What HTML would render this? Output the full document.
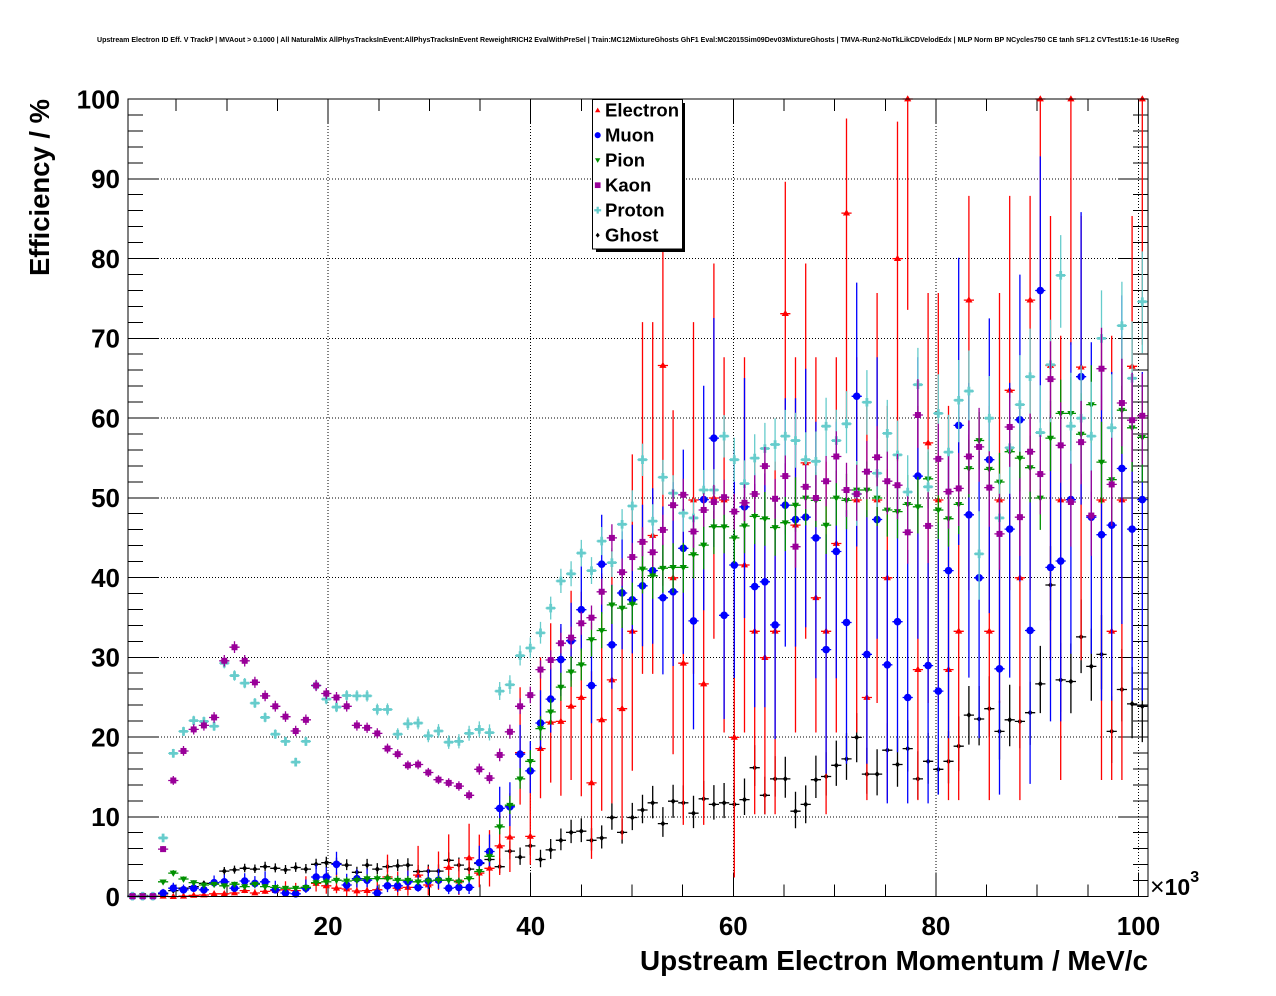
<!DOCTYPE html>
<html>
<head>
<meta charset="utf-8">
<style>
html,body{margin:0;padding:0;background:#fff;width:1276px;height:996px;overflow:hidden;}
svg{display:block;font-family:"Liberation Sans",Arial,sans-serif;}
</style>
</head>
<body>
<svg id="c" width="1276" height="996" viewBox="0 0 1276 996" xmlns="http://www.w3.org/2000/svg">
<rect x="0" y="0" width="1276" height="996" fill="#fff"/>
<text x="638" y="42" font-size="7" font-weight="bold" text-anchor="middle" textLength="1082" lengthAdjust="spacingAndGlyphs">Upstream Electron ID Eff. V TrackP | MVAout &gt; 0.1000 | All NaturalMix AllPhysTracksInEvent:AllPhysTracksInEvent ReweightRICH2 EvalWithPreSel | Train:MC12MixtureGhosts GhF1 Eval:MC2015Sim09Dev03MixtureGhosts | TMVA-Run2-NoTkLikCDVelodEdx | MLP Norm BP NCycles750 CE tanh SF1.2 CVTest15:1e-16 !UseReg</text>
<g id="grid" stroke="#000" stroke-width="1" stroke-dasharray="1,2" shape-rendering="crispEdges" fill="none"></g>
<g id="ticks" stroke="#000" stroke-width="1" shape-rendering="crispEdges" fill="none"></g>
<g id="data"></g>
<rect x="128" y="99" width="1020" height="797.5" fill="none" stroke="#000" stroke-width="1" shape-rendering="crispEdges"/>
<g id="labels" font-size="26" font-weight="bold" fill="#000">
<text x="120" y="906" text-anchor="end">0</text>
<text x="120" y="826.2" text-anchor="end">10</text>
<text x="120" y="746.5" text-anchor="end">20</text>
<text x="120" y="666.7" text-anchor="end">30</text>
<text x="120" y="587" text-anchor="end">40</text>
<text x="120" y="507.2" text-anchor="end">50</text>
<text x="120" y="427.5" text-anchor="end">60</text>
<text x="120" y="347.7" text-anchor="end">70</text>
<text x="120" y="268" text-anchor="end">80</text>
<text x="120" y="188.2" text-anchor="end">90</text>
<text x="120" y="108.5" text-anchor="end">100</text>
<text x="328.1" y="935" text-anchor="middle">20</text>
<text x="530.7" y="935" text-anchor="middle">40</text>
<text x="733.3" y="935" text-anchor="middle">60</text>
<text x="935.9" y="935" text-anchor="middle">80</text>
<text x="1138.5" y="935" text-anchor="middle">100</text>
</g>
<text x="1150" y="895" font-size="23" font-weight="bold"><tspan font-weight="normal" font-size="25">×</tspan>10<tspan dy="-13" font-size="16">3</tspan></text>
<text x="1148" y="970" font-size="28" font-weight="bold" text-anchor="end" textLength="508" lengthAdjust="spacingAndGlyphs">Upstream Electron Momentum / MeV/c</text>
<text transform="translate(49,99) rotate(-90)" x="0" y="0" font-size="28" font-weight="bold" text-anchor="end" textLength="177" lengthAdjust="spacingAndGlyphs">Efficiency / %</text>
<g id="legend">
<rect x="596" y="103" width="89" height="149" fill="#000"/>
<rect x="592.5" y="99.5" width="90" height="149.5" fill="#fff" stroke="#000" stroke-width="1"/>
<g id="legmk"></g>
<g font-size="18.5" font-weight="bold" fill="#000">
<text x="605" y="116.7">Electron</text>
<text x="605" y="141.7">Muon</text>
<text x="605" y="166.7">Pion</text>
<text x="605" y="191.7">Kaon</text>
<text x="605" y="216.7">Proton</text>
<text x="605" y="241.7">Ghost</text>
</g>
</g>
</svg>
<script>
(function(){
function px(v){return 125.5+10.13*v;}
function pyG(v){return 896.5-7.975*v;}
var g='',t='';
[20,40,60,80,100].forEach(function(v){var x=px(v).toFixed(1);g+='<line x1="'+x+'" y1="99" x2="'+x+'" y2="896"/>';});
for(var v=10;v<100;v+=10){var y=pyG(v).toFixed(1);g+='<line x1="128" y1="'+y+'" x2="1148" y2="'+y+'"/>';}
document.getElementById('grid').innerHTML=g;
for(var v=0;v<=100;v+=2){var y=pyG(v).toFixed(1);var L=(v%10===0)?30:15;
 t+='<line x1="128" y1="'+y+'" x2="'+(128+L)+'" y2="'+y+'"/>';
 t+='<line x1="1148" y1="'+y+'" x2="'+(1148-L)+'" y2="'+y+'"/>';}
for(var v=5;v<=100;v+=5){var x=px(v).toFixed(1);var L=(v%20===0)?24:12;
 t+='<line x1="'+x+'" y1="896.5" x2="'+x+'" y2="'+(896.5-L)+'"/>';
 t+='<line x1="'+x+'" y1="99" x2="'+x+'" y2="'+(99+L)+'"/>';}
document.getElementById('ticks').innerHTML=t;

var LF=[0];for(var i=1;i<=400;i++)LF[i]=LF[i-1]+Math.log(i);
function cdf(k,n,p){if(k<0)return 0;if(k>=n)return 1;var s=0,lp=Math.log(p),lq=Math.log(1-p);
 for(var i=0;i<=k;i++){s+=Math.exp(LF[n]-LF[i]-LF[n-i]+i*lp+(n-i)*lq);}return s;}
function interval(p,n){
 var a=0.158655;
 if(n>300){var z=1;var c=(p+z*z/(2*n))/(1+z*z/n);var h=z*Math.sqrt(p*(1-p)/n+z*z/(4*n*n))/(1+z*z/n);return [Math.max(0,c-h),Math.min(1,c+h)];}
 var k=Math.round(p*n);var lo=0,up=1;
 if(k>0){var l=0,h2=1;for(var it=0;it<40;it++){var m=(l+h2)/2;var pk=1-cdf(k-1,n,m);if(pk>a)h2=m;else l=m;}lo=(l+h2)/2;}
 if(k<n){var l2=0,h3=1;for(var it2=0;it2<40;it2++){var m2=(l2+h3)/2;var cc=cdf(k,n,m2);if(cc>a)l2=m2;else h3=m2;}up=(l2+h3)/2;}
 return [lo,up];}
function nAt(an,i){for(var j=0;j<an.length-1;j++){var a=an[j][0],na=an[j][1],b=an[j+1][0],nb=an[j+1][1];
 if(i>=a&&i<=b){var tt=(i-a)/(b-a);return Math.exp(Math.log(na)+tt*(Math.log(nb)-Math.log(na)));}}return an[an.length-1][1];}
function py(v){return 897-7.98*v;}
function marker(tp,x,y,c,s){s=s||1;var f=function(n){return n.toFixed(2);};
 switch(tp){
 case 'tri':return '<polygon points="'+f(x)+','+f(y-3.8*s)+' '+f(x+3.6*s)+','+f(y+2.4*s)+' '+f(x-3.6*s)+','+f(y+2.4*s)+'" fill="'+c+'"/>';
 case 'itri':return '<polygon points="'+f(x-3.6*s)+','+f(y-2.4*s)+' '+f(x+3.6*s)+','+f(y-2.4*s)+' '+f(x)+','+f(y+3.8*s)+'" fill="'+c+'"/>';
 case 'circ':return '<circle cx="'+f(x)+'" cy="'+f(y)+'" r="'+f(3.8*s)+'" fill="'+c+'"/>';
 case 'sq':return '<rect x="'+f(x-3*s)+'" y="'+f(y-3*s)+'" width="'+f(6*s)+'" height="'+f(6*s)+'" fill="'+c+'"/>';
 case 'cross':var a=4.3*s,b=1.4*s;return '<polygon points="'+f(x-b)+','+f(y-a)+' '+f(x+b)+','+f(y-a)+' '+f(x+b)+','+f(y-b)+' '+f(x+a)+','+f(y-b)+' '+f(x+a)+','+f(y+b)+' '+f(x+b)+','+f(y+b)+' '+f(x+b)+','+f(y+a)+' '+f(x-b)+','+f(y+a)+' '+f(x-b)+','+f(y+b)+' '+f(x-a)+','+f(y+b)+' '+f(x-a)+','+f(y-b)+' '+f(x-b)+','+f(y-b)+'" fill="'+c+'"/>';
 case 'dia':return '<polygon points="'+f(x)+','+f(y-3*s)+' '+f(x+2.5*s)+','+f(y)+' '+f(x)+','+f(y+3*s)+' '+f(x-2.5*s)+','+f(y)+'" fill="'+c+'"/>';
 }return '';}
var R=[0.1,0.1,0.1,0.1,0.05,0.1,0.2,0.25,0.4,0.4,0.5,0.8,0.5,0.7,0.8,0.9,0.8,1.2,1.7,1.4,1.1,1.0,0.75,0.8,0.9,2.5,1.1,1.2,2.75,1.5,2.1,3.7,2.0,4.9,3.0,3.6,6.4,7.5,18.1,7.6,18.6,21.9,22,23.9,25.0,14.3,22.2,27.2,23.6,33.3,44.5,45.3,66.6,40.0,29.3,49.75,26.7,50,49.75,20.0,41.6,33.3,30.0,33.3,73.1,46.6,54.4,37.5,33.3,44.3,85.7,49.75,25.0,49.75,40.0,80.0,100,28.5,56.9,49.75,28.5,33.3,74.8,null,33.3,49.75,63.5,40.0,74.8,100,66.6,49.75,100,66.4,null,49.75,33.3,49.75,66.5,100];
var B=[0.1,0.1,0.1,0.5,1.1,0.9,1.1,0.9,1.8,1.9,1.1,2.0,1.7,1.9,0.9,0.5,0.4,1.1,2.5,2.5,4.1,1.5,2.3,2.1,0.5,1.4,1.4,1.9,1.2,2.0,2.1,1.1,1.2,1.2,4.3,5.7,11.1,11.3,17.9,15.8,21.8,24.8,29.75,32.1,36.0,26.5,41.7,31.6,38.1,37.25,39.0,40.9,37.5,38.25,43.7,34.6,49.8,57.5,35.3,41.6,48.9,38.9,39.5,34.1,49.1,47.3,47.6,45.0,31.0,43.3,34.4,62.75,30.4,47.3,29.1,34.5,25.0,52.75,29.0,25.8,40.9,59.1,47.9,40.0,54.8,28.6,46.1,59.8,33.4,76.0,41.3,42.1,49.8,65.2,47.6,45.4,46.6,53.7,46.1,49.8];
var G=[0.1,0.2,0.1,1.9,3.0,2.25,1.8,1.5,1.6,1.4,1.6,1.3,1.6,1.3,1.2,1.1,1.1,1.2,1.8,1.9,2.1,2.0,2.1,2.3,2.3,2.3,2.1,2.1,1.9,2.0,2.1,2.1,1.9,2.3,3.2,5.1,8.8,11.5,14.8,17.0,21.1,23.2,26.3,28.2,29.1,32.25,33.4,36.6,36.2,36.7,41.1,40.25,41.2,41.3,41.3,42.9,44.1,46.4,46.4,45.0,46.5,47.7,47.4,46.3,46.9,49.1,50.0,49.7,46.6,50.0,49.7,51.0,51.0,50.0,48.5,48.3,49.2,48.9,52.4,48.5,47.4,49.2,53.7,57.2,53.6,52.0,55.8,55.0,53.8,50.0,57.5,60.6,60.6,58.0,61.7,54.5,52.3,61.0,58.8,57.6];
var K=[0.1,0.1,0.1,6.0,14.6,18.3,21.0,21.5,22.5,29.6,31.3,29.6,26.9,25.2,23.9,22.6,20.8,22.2,26.5,25.5,25.0,23.9,21.5,21.2,20.5,18.6,17.9,16.5,16.6,15.6,14.7,14.3,13.9,12.75,16.0,14.9,17.8,20.7,23.9,25.3,28.5,29.7,31.8,32.5,34.3,35.0,38.25,45.0,40.7,42.6,44.5,43.2,46.0,49.1,50.4,45.8,48.5,49.5,50.1,48.3,49.4,50.5,54.0,49.9,52.75,43.9,51.4,50.0,52.1,55.2,51.0,50.5,53.3,55.1,52.1,51.6,45.7,60.4,46.5,54.9,50.8,51.2,55.2,56.4,51.3,45.5,58.9,47.6,55.8,53.0,64.9,56.6,49.5,57.0,47.8,66.2,51.7,61.9,59.75,60.3];
var P=[0.1,0.1,0.1,7.4,18.0,20.75,22.1,22.0,21.4,29.3,27.75,26.8,24.3,22.5,20.4,19.5,16.9,19.5,26.5,24.8,23.8,25.25,25.2,25.2,23.5,23.5,20.4,21.7,21.8,20.2,20.8,19.4,19.5,20.5,21.0,20.6,25.8,26.6,30.25,31.2,33.1,36.2,39.6,40.5,43.1,40.9,44.6,41.9,46.7,49.0,54.8,47.1,52.6,50.6,48.1,47.5,51.0,51.0,57.75,54.8,51.8,55.0,56.2,56.7,57.75,57.2,54.8,54.6,59.0,57.2,59.3,50.5,62.0,53.1,58.1,55.4,50.75,64.2,51.4,60.6,55.75,62.25,63.4,43.0,60.0,47.5,56.3,61.7,65.2,58.2,66.7,77.9,59.0,60.0,57.75,70.0,58.8,71.6,65.0,74.6];
var H=[0.05,0.05,0.1,0.4,0.8,1.1,1.3,1.7,1.8,3.25,3.4,3.6,3.5,3.8,3.6,3.4,3.7,3.5,4.1,4.3,4.2,4.0,3.1,4.0,3.5,3.8,3.9,4.0,3.2,3.25,3.25,4.6,4.0,3.5,4.2,4.7,3.8,5.75,5.0,6.4,4.7,5.9,7.1,8.1,8.25,7.1,7.4,9.96,8.1,9.96,10.9,11.8,9.2,12.0,11.8,10.5,12.3,11.6,11.8,11.6,12.2,16.2,12.75,14.8,14.8,10.75,11.6,14.7,15.1,16.5,17.3,20.0,15.4,15.4,18.4,16.6,18.6,14.8,17.0,16.0,17.0,18.9,22.8,22.3,23.6,20.75,22.2,22.0,23.1,26.7,39.1,27.2,27.0,32.6,28.9,30.4,20.75,26.0,24.2,23.9];
var series=[
 {c:'#000000',m:'dia',v:H,N:[[0,3000],[10,1300],[40,370],[60,250],[90,130],[99,110]]},
 {c:'#ff0000',m:'tri',v:R,N:[[0,1500],[10,600],[20,150],[30,80],[36,50],[40,30],[45,15],[50,8],[99,5]]},
 {c:'#0000ff',m:'circ',v:B,N:[[0,400],[20,250],[35,180],[40,150],[45,90],[50,40],[55,18],[75,12],[99,9]]},
 {c:'#009000',m:'itri',v:G,N:[[0,3000],[20,1000],[40,740],[50,300],[60,250],[83,215],[99,90]]},
 {c:'#66cccc',m:'cross',v:P,N:[[0,5000],[20,4500],[35,1600],[40,1200],[60,300],[90,68],[99,60]]},
 {c:'#990099',m:'sq',v:K,N:[[0,4000],[30,4000],[46,900],[62,430],[77,150],[90,117],[99,90]]}
];
var out='';
series.forEach(function(s){
 var bars='',mk='';
 for(var i=0;i<100;i++){var v=s.v[i];if(v===null||v===undefined)continue;
  var x=132.5+10.2*i;var y=py(v);var p=v/100;
  var n=Math.max(2,Math.round(nAt(s.N,i)));
  var iv=interval(p,n);var lo=Math.min(iv[0],p),hi=Math.max(iv[1],p);
  lo=Math.max(0,lo);hi=Math.min(1,hi);
  bars+='M'+(x-5.1).toFixed(1)+' '+y.toFixed(1)+'H'+(x+5.1).toFixed(1)+'M'+x.toFixed(1)+' '+py(lo*100).toFixed(1)+'V'+py(hi*100).toFixed(1);
  mk+=marker(s.m,x,y,s.c,1);
 }
 out+='<path d="'+bars+'" stroke="'+s.c+'" stroke-width="1.3" fill="none"/>'+mk;
});
document.getElementById('data').innerHTML=out;
var lm='';
lm+=marker('tri',597.7,110.5,'#ff0000',0.75);
lm+=marker('circ',597.7,135.2,'#0000ff',0.8);
lm+=marker('itri',597.7,160,'#009000',0.75);
lm+=marker('sq',597.7,185.2,'#990099',0.95);
lm+=marker('cross',597.7,210.2,'#66cccc',0.8);
lm+=marker('dia',597.7,235.2,'#000000',0.8);
document.getElementById('legmk').innerHTML=lm;
})();
</script>
</body>
</html>
